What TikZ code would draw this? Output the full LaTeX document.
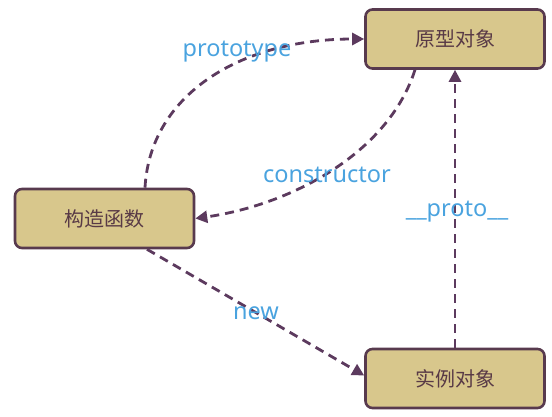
\documentclass[tikz,border=0pt]{standalone}
\usepackage{fontspec}
\setmainfont{Noto Sans}
\newfontfamily\cjk{Noto Sans CJK SC}
\usetikzlibrary{arrows.meta}
\definecolor{boxfill}{RGB}{216,199,140}
\definecolor{boxline}{RGB}{88,58,78}
\definecolor{boxtext}{RGB}{88,58,70}
\definecolor{arrowc}{RGB}{92,58,94}
\definecolor{labelc}{RGB}{74,163,223}
\tikzset{
  objbox/.style={draw=boxline, fill=boxfill, line width=2.6pt, rounded corners=7pt,
    minimum width=179pt, minimum height=59pt, inner sep=0pt,
    font=\cjk\fontsize{20}{24}\selectfont, text=boxtext},
  link/.style={draw=arrowc, line width=2.8pt, dash pattern=on 9pt off 6pt,
    -{Triangle[length=12pt,width=12pt]}},
  lbl/.style={text=labelc, font=\fontsize{23.5}{28}\selectfont, inner sep=0pt}
}
\begin{document}
\begin{tikzpicture}[x=1pt,y=1pt]
\useasboundingbox (0,0) rectangle (552,416);
\node[objbox] (proto) at (455,377) {原型对象};
\node[objbox] (ctor) at (104.5,197.5) {构造函数};
\node[objbox] (inst) at (455,37.5) {实例对象};
\coordinate (ctortop) at ([xshift=40.5pt]ctor.north);
\coordinate (ctorbot) at ([xshift=42.5pt]ctor.south);
\coordinate (protobot) at ([xshift=-40pt]proto.south);
\draw[link] (ctortop) .. controls (150,321) and (240,377) .. (proto.west);
\draw[link] (protobot) .. controls (388,262) and (290,211) .. (ctor.east);
\draw[link] (ctorbot) -- ([yshift=3pt]inst.west);
\draw[link] (inst.north) -- (proto.south);
\node[lbl] (lproto) at (237,364) {prototype};
\node[lbl] (lctor) at (327,241) {constructor};
\node[lbl] (l__) at (457,204) {\_\_proto\_\_};
\node[lbl] (lnew) at (256,103) {new};
\end{tikzpicture}
\end{document}
